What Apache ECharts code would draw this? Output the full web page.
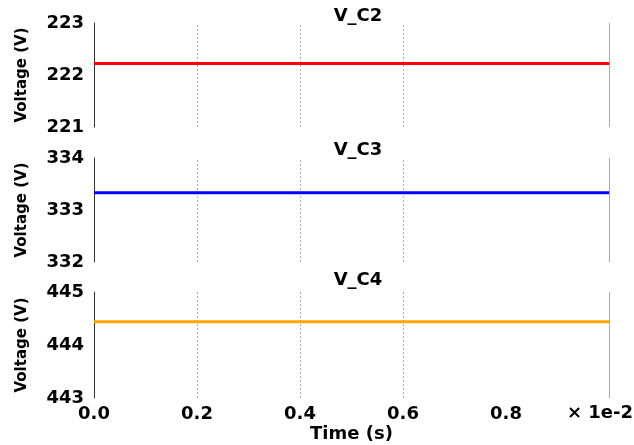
<!DOCTYPE html>
<html>
<head>
<meta charset="utf-8">
<script src="https://cdn.jsdelivr.net/npm/echarts@6/dist/echarts.min.js"></script>
<style>
  html, body { margin: 0; padding: 0; background: #fff; }
  #chart { width: 634px; height: 445px; }
</style>
</head>
<body>
<div id="chart"></div>
<script>
  // time in seconds, shown on the axis in units of 1e-2 s
  var time = [0, 0.002, 0.004, 0.006, 0.008, 0.01];
  var vC2 = [222.22, 222.22, 222.22, 222.22, 222.22, 222.22];
  var vC3 = [333.33, 333.33, 333.33, 333.33, 333.33, 333.33];
  var vC4 = [444.44, 444.44, 444.44, 444.44, 444.44, 444.44];
  var titles = ['V_C2', 'V_C3', 'V_C4'];
  var yRanges = [[221, 223], [332, 334], [443, 445]];
  var gridLinesAt = [0.002, 0.004, 0.006];
  var colors = ['#ff0000', '#0000ff', '#ffa500'];

  var font = 'DejaVu Sans';
  var myChart = echarts.init(document.getElementById('chart'));

  var grids = [
    { left: 94, right: 25, top: 23, height: 104 },
    { left: 94, right: 25, top: 158, height: 104 },
    { left: 94, right: 25, top: 292, height: 106 }
  ];
  var titleTops = [2, 136, 266];
  var allData = [vC2, vC3, vC4];

  var xAxes = [], yAxes = [], series = [], titleList = [];
  for (var i = 0; i < 3; i++) {
    var last = i === 2;
    var lo = yRanges[i][0], hi = yRanges[i][1];
    titleList.push({
      text: titles[i], left: 353, top: titleTops[i], textAlign: 'center',
      textStyle: { fontFamily: font, fontWeight: 'bold', fontSize: 18, color: '#000' }
    });
    xAxes.push({
      type: 'value', gridIndex: i, min: 0, max: 0.01, interval: 0.002,
      axisLine: { show: false }, axisTick: { show: false }, splitLine: { show: false },
      axisLabel: {
        show: last, margin: 7, color: '#000', fontFamily: font, fontWeight: 'bold', fontSize: 18,
        formatter: function (v) { return v >= 0.0099 ? '' : (v * 100).toFixed(1); }
      },
      name: last ? 'Time (s)' : '', nameLocation: 'middle', nameGap: 27,
      nameTextStyle: { color: '#000', fontFamily: font, fontWeight: 'bold', fontSize: 18 }
    });
    yAxes.push({
      type: 'value', gridIndex: i, min: lo, max: hi, interval: 1,
      axisLine: { show: true, lineStyle: { color: '#333', width: 1 } },
      axisTick: { show: false }, splitLine: { show: false },
      axisLabel: { margin: 10, color: '#000', fontFamily: font, fontWeight: 'bold', fontSize: 18 },
      name: 'Voltage (V)', nameLocation: 'middle', nameGap: 64,
      nameTextStyle: { color: '#000', fontFamily: font, fontWeight: 'bold', fontSize: 15 }
    });
    var lines = gridLinesAt.map(function (x) {
      return [
        { coord: [x, lo], lineStyle: { type: [2, 2], color: '#aaa', width: 1 } },
        { coord: [x, hi] }
      ];
    });
    lines.push([
      { coord: [0.01, lo], lineStyle: { type: 'solid', color: '#aaa', width: 1 } },
      { coord: [0.01, hi] }
    ]);
    series.push({
      name: titles[i], type: 'line', xAxisIndex: i, yAxisIndex: i,
      data: time.map(function (t, k) { return [t, allData[i][k]]; }),
      showSymbol: false, z: 3,
      lineStyle: { color: colors[i], width: 3 }, itemStyle: { color: colors[i] },
      markLine: { silent: true, symbol: 'none', label: { show: false }, animation: false, z: 1, data: lines }
    });
  }

  var option = {
    animation: false,
    title: titleList,
    grid: grids,
    xAxis: xAxes,
    yAxis: yAxes,
    series: series,
    graphic: [{
      type: 'text', right: 1, top: 404,
      style: { text: '× 1e-2', fill: '#000', font: 'bold 18px "DejaVu Sans"' }
    }]
  };

  myChart.setOption(option);
</script>
</body>
</html>
